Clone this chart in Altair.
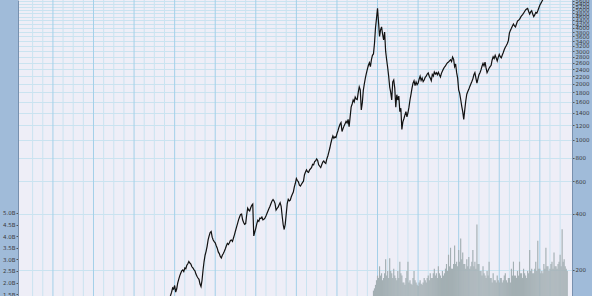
import altair as alt
import pandas as pd

# ---- data ----
# index level sampled every 0.1 year starting 1978.0
price_start = 1978.0
price_step = 0.1
price_values = [
    105, 101, 104, 111, 118, 127, 132, 124, 112, 116,            # 1978
    118, 123, 126, 130, 134, 141, 146, 152, 160, 158,            # 1979
    165, 152, 158, 170, 178, 186, 192, 198, 200, 196,            # 1980
    205, 203, 212, 216, 222, 218, 215, 208, 205, 201,            # 1981
    198, 190, 185, 181, 178, 168, 163, 176, 200, 222,            # 1982
    240, 252, 268, 290, 305, 318, 322, 300, 290, 284,            # 1983
    280, 270, 262, 250, 245, 236, 232, 240, 245, 252,            # 1984
    260, 270, 278, 274, 280, 288, 290, 285, 297, 310,            # 1985
    325, 340, 355, 372, 385, 398, 400, 372, 360, 352,            # 1986
    355, 395, 430, 420, 415, 432, 445, 452, 305, 320,            # 1987
    335, 355, 370, 365, 380, 378, 385, 372, 375, 380,            # 1988
    390, 402, 415, 428, 440, 455, 470, 478, 470, 455,            # 1989
    420, 428, 435, 448, 460, 440, 390, 350, 330, 352,            # 1990
    400, 455, 480, 470, 475, 495, 510, 525, 560, 585,            # 1991
    620, 605, 595, 572, 565, 578, 590, 600, 650, 672,            # 1992
    690, 675, 670, 690, 700, 712, 740, 735, 765, 772,            # 1993
    790, 775, 735, 722, 710, 735, 760, 770, 755, 748,            # 1994
    790, 820, 860, 905, 960, 1010, 1050, 1020, 1040, 1030,       # 1995
    1080, 1120, 1171, 1215, 1240, 1110, 1150, 1190, 1220, 1260,  # 1996
    1233, 1290, 1180, 1330, 1500, 1560, 1640, 1600, 1700, 1660,  # 1997
    1650, 1800, 1930, 1860, 1450, 1580, 1850, 2000, 2150, 2280,  # 1998
    2400, 2520, 2600, 2480, 2700, 2850, 2900, 3300, 4000, 4500,  # 1999
    5100, 4300, 3600, 3900, 4050, 3700, 3450, 3800, 3000, 2700,  # 2000
    2450, 2200, 1926, 1800, 1640, 2050, 2100, 1900, 1500, 1750,  # 2001
    1640, 1720, 1420, 1480, 1140, 1250, 1300, 1360, 1420, 1330,  # 2002
    1400, 1500, 1640, 1760, 1900, 2020, 2080, 1960, 2050, 1980,  # 2003
    2020, 2120, 2200, 2090, 2150, 2060, 2100, 2170, 2200, 2260,  # 2004
    2290, 2200, 2150, 2080, 2250, 2200, 2318, 2260, 2300, 2240,  # 2005
    2310, 2240, 2180, 2280, 2350, 2410, 2467, 2500, 2560, 2600,  # 2006
    2620, 2660, 2700, 2640, 2790, 2720, 2480, 2560, 2300, 2150,  # 2007
    1856, 1780, 1650, 1520, 1420, 1290, 1450, 1620, 1760, 1820,  # 2008
    1870, 1940, 2000, 2060, 2130, 2240, 2300, 2150, 2020, 2130,  # 2009
    2240, 2300, 2380, 2490, 2580, 2500, 2620, 2440, 2300, 2360,  # 2010
    2430, 2480, 2520, 2690, 2800, 2740, 2850, 2760, 2660, 2780,  # 2011
    2880, 2800, 2760, 2860, 2950, 3060, 3150, 3220, 3300, 3420,  # 2012
    3750, 3880, 3980, 4100, 4200, 4100, 4050, 4200, 4350, 4400,  # 2013
    4450, 4560, 4650, 4720, 4800, 4900, 5000, 5060, 5100, 4900,  # 2014
    4750, 4880, 4950, 4750, 4600, 4700, 4850, 4800, 4950, 5120,  # 2015
    5300, 5420, 5550, 5680, 5800, 5900, 6000,                    # 2016
]

# volume in billions, every 0.1 year starting 1999.6
vol_start = 1999.6
vol_step = 0.1
vol_values = [
    1.65, 1.75, 1.9, 2.1, 2.3, 2.2, 2.7, 2.3, 2.4, 2.1,
    2.2, 2.4, 3.0, 2.3, 2.5, 2.2, 3.05, 2.5, 2.4, 2.2,
    2.6, 2.3, 2.2, 2.1, 2.5, 2.2, 2.9, 2.4, 2.3, 2.0,
    2.0, 1.9, 2.2, 2.5, 2.9, 2.0, 2.1, 1.95, 1.9, 2.2,
    2.5, 2.1, 2.0, 1.9, 1.85, 2.0, 2.1, 1.95, 1.9, 2.0,
    2.2, 2.1, 2.0, 2.2, 2.3, 2.1, 2.4, 2.2, 2.2, 2.4,
    2.6, 2.3, 2.4, 2.2, 2.7, 2.4, 2.3, 2.2, 2.5, 2.3,
    2.4, 2.6, 2.8, 2.5, 3.2, 2.7, 3.5, 2.6, 2.6, 2.8,
    3.6, 2.8, 2.9, 2.7, 3.4, 2.9, 3.9, 3.0, 3.3, 2.8,
    2.8, 2.6, 3.0, 2.7, 3.1, 2.6, 2.7, 2.9, 3.4, 2.7,
    2.9, 2.6, 4.5, 2.8, 2.8, 2.5, 2.5, 2.3, 2.7, 2.4,
    2.3, 2.2, 2.5, 2.3, 2.9, 2.2, 2.2, 2.0, 2.4, 2.1,
    2.1, 2.0, 2.3, 2.1, 2.0, 2.2, 2.2, 2.0, 2.1, 2.3,
    2.4, 2.1, 2.0, 2.2, 2.2, 2.0, 2.6, 2.3, 2.9, 2.3,
    2.3, 2.2, 2.5, 2.3, 2.9, 2.4, 2.4, 2.2, 2.6, 2.4,
    2.3, 2.2, 2.5, 2.4, 3.4, 2.5, 2.6, 2.4, 2.4, 2.6,
    2.9, 2.5, 3.8, 2.6, 2.6, 2.4, 2.5, 2.4, 2.8, 2.6,
    3.5, 2.7, 2.7, 2.5, 2.6, 2.8, 2.9, 2.6, 3.3, 2.7,
    2.7, 2.6, 2.8, 2.9, 3.2, 2.7, 4.3, 2.9, 3.0, 2.7,
    2.6, 2.5,
]

price_ticks = list(range(200, 5800, 200))
vol_ticks = [1.5, 2.0, 2.5, 3.0, 3.5, 4.0, 4.5, 5.0]
year_ticks = list(range(1966, 2019))

price_df = pd.DataFrame({
    "t": [price_start + i * price_step for i in range(len(price_values))],
    "p": price_values,
})
vol_df = pd.DataFrame({
    "t": [vol_start + i * vol_step for i in range(len(vol_values))],
    "v": vol_values,
})
year_df = pd.DataFrame({"t": year_ticks})

BAND = "#a0bbd9"
PLOT = "#eeeef7"
MINOR = "#cae3f0"
MAJOR = "#a3d0e9"
LABEL = "#3a3a3a"
EDGE = "#7890ae"

x_scale = alt.Scale(domain=[1965.05, 2018.68], nice=False, zero=False)

vgrid = alt.Chart(year_df).mark_rule(strokeWidth=1).encode(
    x=alt.X("t:Q", scale=x_scale, axis=None),
    color=alt.condition("datum.t % 4 === 0", alt.value(MAJOR), alt.value(MINOR)),
)

vol = alt.Chart(vol_df).mark_bar(color="#a3afb3", width=1.15, clip=True).encode(
    x=alt.X("t:Q", scale=x_scale, axis=None),
    y=alt.Y(
        "v:Q",
        scale=alt.Scale(domain=[1.42, 14.18], nice=False, zero=False),
        axis=alt.Axis(
            orient="left", values=vol_ticks, title=None, grid=False,
            labelExpr="format(datum.value, '.1f') + 'B'",
            labelFontSize=5.5, labelColor=LABEL, labelFont="DejaVu Sans",
            tickSize=2, tickColor="#555555", labelPadding=1,
            domain=True, domainColor=EDGE, labelOverlap=False, labelFlush=False,
        ),
    ),
    y2=alt.datum(0),
)

line = alt.Chart(price_df).mark_line(color="#111111", strokeWidth=1.2, clip=True).encode(
    x=alt.X("t:Q", scale=x_scale, axis=None),
    y=alt.Y(
        "p:Q",
        scale=alt.Scale(type="log", domain=[144.9, 5653], nice=False),
        axis=alt.Axis(
            orient="right", values=price_ticks, title=None, format="d",
            grid=True, gridColor=MINOR, gridWidth=1,
            labelFontSize=5.5, labelColor=LABEL, labelFont="DejaVu Sans",
            tickSize=2, tickColor="#555555", labelPadding=1,
            domain=True, domainColor=EDGE, labelOverlap=False, labelFlush=False,
        ),
    ),
)

chart = alt.layer(vgrid, vol, line).resolve_scale(y="independent").properties(
    width=554,
    height=296,
    autosize=alt.AutoSizeParams(type="none"),
    padding={"left": 18, "top": 0, "right": 20, "bottom": 0},
    background=BAND,
).configure_view(fill=PLOT, stroke=None)

chart.save("out.html", embed_options={"renderer": "svg", "actions": False})
